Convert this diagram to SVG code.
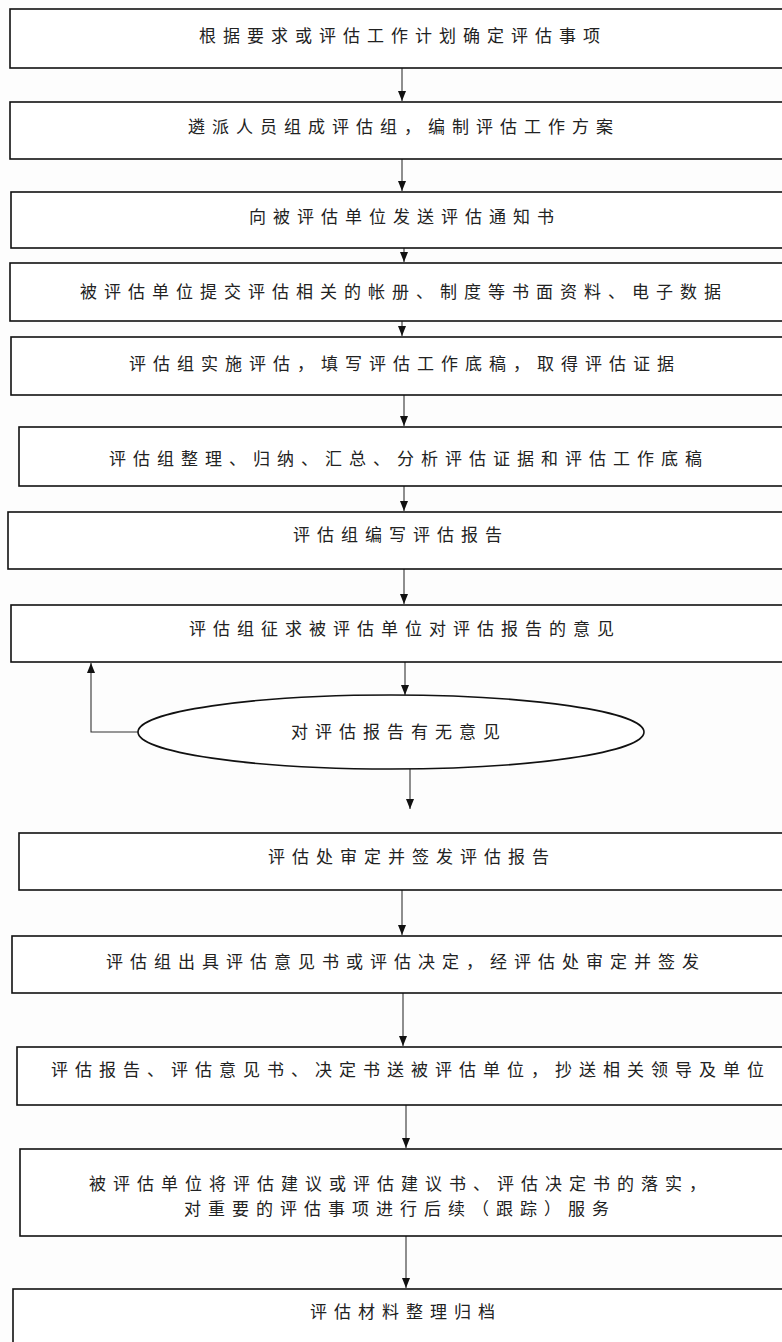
<svg xmlns="http://www.w3.org/2000/svg" width="782" height="1342" viewBox="0 0 782 1342">
<style>
.box{fill:#ffffff;stroke:#111;stroke-width:1.6}
.t{font-family:"Noto Sans CJK SC","Noto Sans CJK JP",sans-serif;font-size:17px;letter-spacing:7px;fill:#222;text-anchor:middle;dominant-baseline:central}
.c{fill:none;stroke:#333;stroke-width:1.1}
</style>
<defs>
<marker id="ah" viewBox="0 0 10 10" refX="10" refY="5" markerWidth="10" markerHeight="10" markerUnits="userSpaceOnUse" orient="auto">
<path d="M0,1 L10,5 L0,9 Z" fill="#111"/>
</marker>
</defs>
<rect width="782" height="1342" fill="#fdfdfd"/>
<g id="connectors">
<line class="c" x1="402" y1="68" x2="402" y2="101" marker-end="url(#ah)"/>
<line class="c" x1="402" y1="159" x2="402" y2="191" marker-end="url(#ah)"/>
<line class="c" x1="404" y1="248" x2="404" y2="262" marker-end="url(#ah)"/>
<line class="c" x1="402" y1="321" x2="402" y2="336" marker-end="url(#ah)"/>
<line class="c" x1="404" y1="395" x2="404" y2="426" marker-end="url(#ah)"/>
<line class="c" x1="404" y1="486" x2="404" y2="511" marker-end="url(#ah)"/>
<line class="c" x1="404" y1="569" x2="404" y2="604" marker-end="url(#ah)"/>
<line class="c" x1="405" y1="662" x2="405" y2="695" marker-end="url(#ah)"/>
<line class="c" x1="410" y1="769" x2="410" y2="809" marker-end="url(#ah)"/>
<polyline class="c" points="138,732 91,732 91,663" marker-end="url(#ah)"/>
<line class="c" x1="402" y1="890" x2="402" y2="935" marker-end="url(#ah)"/>
<line class="c" x1="403" y1="993" x2="403" y2="1046" marker-end="url(#ah)"/>
<line class="c" x1="406" y1="1105" x2="406" y2="1148" marker-end="url(#ah)"/>
<line class="c" x1="406" y1="1236" x2="406" y2="1288" marker-end="url(#ah)"/>
</g>
<g id="n1"><rect class="box" x="10" y="9" width="800" height="59"/><text class="t" x="403" y="34">根据要求或评估工作计划确定评估事项</text></g>
<g id="n2"><rect class="box" x="10" y="102" width="800" height="57"/><text class="t" x="404" y="125">遴派人员组成评估组，编制评估工作方案</text></g>
<g id="n3"><rect class="box" x="11" y="192" width="800" height="56"/><text class="t" x="405" y="215">向被评估单位发送评估通知书</text></g>
<g id="n4"><rect class="box" x="10" y="263" width="800" height="58"/><text class="t" x="404" y="290">被评估单位提交评估相关的帐册、制度等书面资料、电子数据</text></g>
<g id="n5"><rect class="box" x="11" y="337" width="800" height="58"/><text class="t" x="405" y="362">评估组实施评估，填写评估工作底稿，取得评估证据</text></g>
<g id="n6"><rect class="box" x="19" y="427" width="800" height="59"/><text class="t" x="409" y="457">评估组整理、归纳、汇总、分析评估证据和评估工作底稿</text></g>
<g id="n7"><rect class="box" x="8" y="512" width="800" height="57"/><text class="t" x="401" y="533">评估组编写评估报告</text></g>
<g id="n8"><rect class="box" x="11" y="605" width="800" height="57"/><text class="t" x="405" y="627">评估组征求被评估单位对评估报告的意见</text></g>
<g id="n9"><ellipse class="box" cx="391" cy="732" rx="253" ry="37"/><text class="t" x="399" y="730">对评估报告有无意见</text></g>
<g id="n10"><rect class="box" x="19" y="833" width="800" height="57"/><text class="t" x="412" y="855">评估处审定并签发评估报告</text></g>
<g id="n11"><rect class="box" x="12" y="936" width="800" height="57"/><text class="t" x="406" y="960">评估组出具评估意见书或评估决定，经评估处审定并签发</text></g>
<g id="n12"><rect class="box" x="17" y="1047" width="800" height="58"/><text class="t" x="411" y="1068">评估报告、评估意见书、决定书送被评估单位，抄送相关领导及单位</text></g>
<g id="n13"><rect class="box" x="20" y="1149" width="800" height="87"/><text class="t" x="401" y="1182">被评估单位将评估建议或评估建议书、评估决定书的落实，</text><text class="t" x="400" y="1207">对重要的评估事项进行后续（跟踪）服务</text></g>
<g id="n14"><rect class="box" x="13" y="1289" width="800" height="70"/><text class="t" x="406" y="1310">评估材料整理归档</text></g>
</svg>
